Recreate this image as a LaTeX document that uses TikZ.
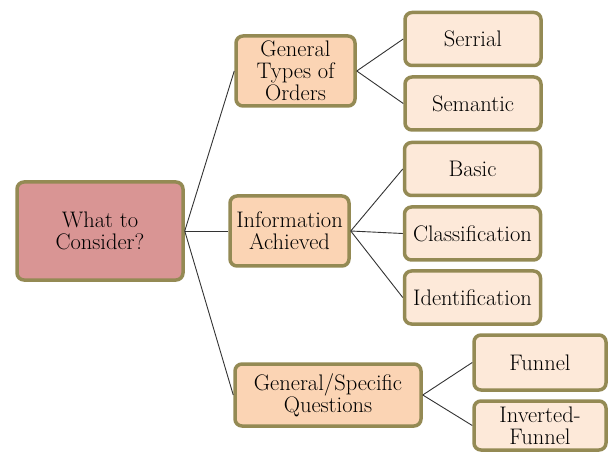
\documentclass[tikz,border=0pt]{standalone}
\usetikzlibrary{positioning}

\definecolor{olive}{HTML}{948A54}
\definecolor{rootfill}{HTML}{D99594}
\definecolor{midfill}{HTML}{FBD4B4}
\definecolor{leaffill}{HTML}{FDE9D9}

\tikzset{
  box/.style={draw=olive, line width=3.5pt, rounded corners=7pt, align=center,
    inner sep=0pt, text=black, font=\fontsize{22.5}{21.7}\selectfont},
  rootbox/.style={box, fill=rootfill, minimum width=166pt, minimum height=98pt},
  midbox/.style={box, fill=midfill, minimum width=119pt, minimum height=70pt},
  leafbox/.style={box, fill=leaffill, minimum width=136pt, minimum height=53pt},
  link/.style={draw=black!80, line width=0.9pt}
}

\begin{document}
\begin{tikzpicture}[x=1pt, y=-1pt]
  \useasboundingbox (0,0) rectangle (610,454);
  % root
  \node[rootbox] (consider) at (100,231) {What to\\Consider?};
  % second level
  \node[midbox] (types) at (295.5,71) {General\\Types of\\Orders};
  \node[midbox] (info) at (289.5,231) {Information\\Achieved};
  \node[midbox, minimum width=186pt, minimum height=62pt] (questions) at (328,395) {General/Specific\\Questions};
  % leaves
  \node[leafbox] (serrial) at (473,39) {Serrial};
  \node[leafbox] (semantic) at (473,103.5) {Semantic};
  \node[leafbox] (basic) at (472.5,169) {Basic};
  \node[leafbox] (classif) at (472.5,233.5) {Classification};
  \node[leafbox] (ident) at (472.5,297.5) {Identification};
  \node[leafbox, minimum width=132pt, minimum height=55pt] (funnel) at (540,362.5) {Funnel};
  \node[leafbox, minimum width=132pt, minimum height=49pt] (inverted) at (540,425.5) {Inverted-\\Funnel};
  % connectors
  \foreach \child in {types,info,questions}
    \draw[link] (consider.east) -- (\child.west);
  \foreach \child in {serrial,semantic}
    \draw[link] (types.east) -- (\child.west);
  \foreach \child in {basic,classif,ident}
    \draw[link] (info.east) -- (\child.west);
  \foreach \child in {funnel,inverted}
    \draw[link] (questions.east) -- (\child.west);
\end{tikzpicture}
\end{document}
